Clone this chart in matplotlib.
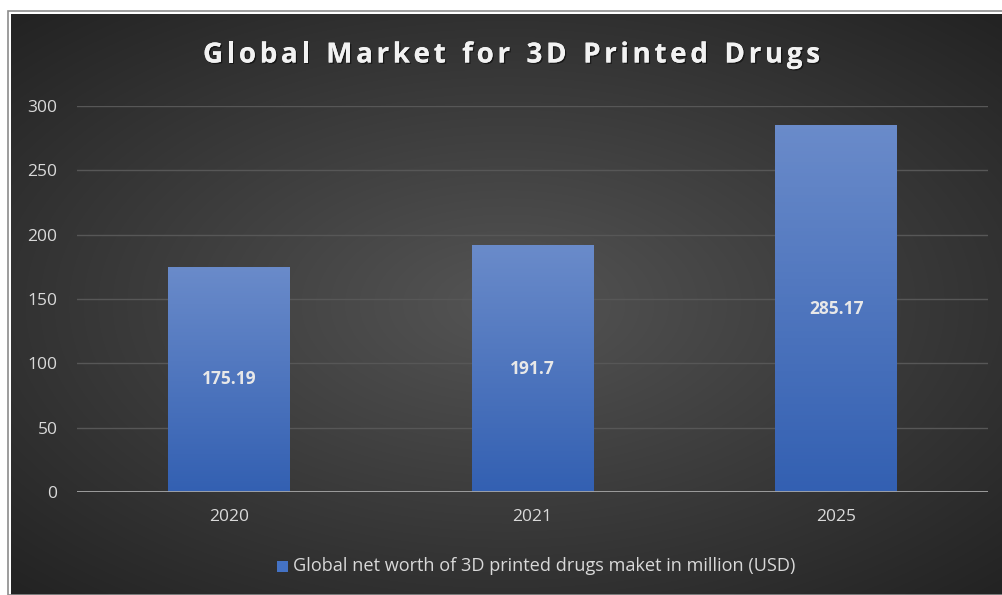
import matplotlib.pyplot as plt
import numpy as np
from matplotlib.patches import Rectangle
import matplotlib.patheffects as pe

plt.rcParams['font.family'] = ['Open Sans', 'DejaVu Sans']

years = ['2020', '2021', '2025']
values = [175.19, 191.7, 285.17]
value_labels = ['175.19', '191.7', '285.17']
yticks = [0, 50, 100, 150, 200, 250, 300]
title = 'Global Market for 3D Printed Drugs'
series_name = 'Global net worth of 3D printed drugs maket in million (USD)'

W, H = 1003, 595
fig = plt.figure(figsize=(W / 100, H / 100), dpi=100, facecolor='white')

# dark panel with radial gradient
bg = fig.add_axes([11 / W, 0, 1 - 11 / W, 1 - 14 / H])
bg.set_axis_off()
yy, xx = np.mgrid[-1:1:300j, -1:1:500j]
r = np.sqrt((xx * 0.95) ** 2 + (yy * 1.0) ** 2)
shade = 0.33 - 0.19 * np.clip(r / 1.35, 0, 1)
img = np.dstack([shade, shade, shade])
bg.imshow(img, aspect='auto', extent=[0, 1, 0, 1], interpolation='bilinear')
bg.set_xlim(0, 1)
bg.set_ylim(0, 1)
# outer frame
fig.patches.append(Rectangle((8 / W, 0), 1 - 8 / W, 1 - 11 / H, transform=fig.transFigure,
                             fill=False, edgecolor='#8c8c8c', linewidth=1.2))

ax = fig.add_axes([77 / W, 1 - 492 / H, (988 - 77) / W, (492 - 106) / H])
ax.set_facecolor('none')
x = np.arange(len(years))
bars = ax.bar(x, values, width=0.40, color='#4a72bd', zorder=3)

# vertical gradient on each bar
grad = np.linspace(0, 1, 100).reshape(-1, 1)
top_c = np.array([0x6a, 0x8b, 0xca]) / 255
bot_c = np.array([0x33, 0x60, 0xb2]) / 255
gimg = bot_c + (top_c - bot_c) * grad[..., None]
for b in bars:
    im = ax.imshow(gimg, origin='lower', aspect='auto', zorder=4,
                   extent=[b.get_x(), b.get_x() + b.get_width(), 0, b.get_height()])
    im.set_clip_path(b)

for xi, v, lab in zip(x, values, value_labels):
    ax.text(xi, v / 2, lab, ha='center', va='center', color='#e8e8e8',
            fontsize=12.5, fontweight='bold', zorder=5)

ax.set_xlim(-0.5, 2.5)
ax.set_ylim(0, 300)
ax.set_yticks(yticks)
ax.set_xticks(x)
ax.set_xticklabels(years)
ax.grid(axis='y', color='#575757', linewidth=1.0, zorder=0)
ax.axhline(0, color='#a6a6a6', linewidth=2, zorder=6)
for s in ax.spines.values():
    s.set_visible(False)
ax.tick_params(length=0, colors='#d9d9d9', labelsize=12.5)
ax.tick_params(axis='y', pad=14)
ax.tick_params(axis='x', pad=12)

# title with letter spacing: lay out characters one by one
renderer = fig.canvas.get_renderer()
shadow = [pe.withSimplePatchShadow(offset=(1, -1), shadow_rgbFace='black', alpha=0.5), pe.Normal()]
chars = []
widths = []
for ch in title:
    t = fig.text(0, 1 - 55 / H, ch if ch != ' ' else 'n', ha='left', va='center',
                 color='#f2f2f2', fontsize=20, fontweight='bold', path_effects=shadow)
    w = t.get_window_extent(renderer).width
    if ch == ' ':
        t.set_text('')
        w *= 0.5
    chars.append(t)
    widths.append(w)
x0, x1 = 203, 820
gap = (x1 - x0 - sum(widths)) / (len(title) - 1)
cx = x0
for t, w in zip(chars, widths):
    t.set_x(cx / W)
    cx += w + gap

fig.patches.append(Rectangle((277 / W, 1 - 572 / H), 11 / W, 11 / H, transform=fig.transFigure,
                             facecolor='#4472c4', edgecolor='none'))
fig.text(293 / W, 1 - 566 / H, series_name, ha='left', va='center', color='#d9d9d9', fontsize=13.1)

fig.savefig('out.png', dpi=100, facecolor='white')
